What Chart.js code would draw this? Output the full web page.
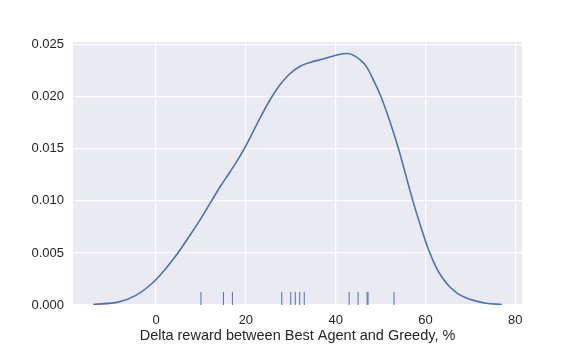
<!DOCTYPE html>
<html>
<head>
<meta charset="utf-8">
<script src="https://cdn.jsdelivr.net/npm/chart.js@4"></script>
<style>
html,body{margin:0;padding:0;background:#fff;}
#wrap{width:581px;height:349px;position:relative;}
</style>
</head>
<body>
<div id="wrap"><canvas id="c" width="581" height="349"></canvas></div>
<script>
// KDE curve
const kdeX = [-14, -8.3, -4.6, -1.3, 0.95, 4.28, 7.6, 9.8, 12.05, 14.3, 16.5, 18.7, 20.9, 23.15, 25.4, 27.6, 29.8, 32.0, 34.3, 37.2, 40.5, 42.6, 45.4, 47.0, 48.3, 50.1, 52.1, 54.0, 55.6, 57.2, 58.9, 60.7, 62.4, 63.8, 65.5, 67.2, 69.0, 70.9, 73.5, 77.0];
const kdeY = [0.00005, 0.0003, 0.0009, 0.00192, 0.00288, 0.00465, 0.00673, 0.00817, 0.00978, 0.01138, 0.0128, 0.0143, 0.01603, 0.01795, 0.01971, 0.02115, 0.02221, 0.02291, 0.0233, 0.02362, 0.02404, 0.02415, 0.02356, 0.0228, 0.0217, 0.0200, 0.0176, 0.0150, 0.0125, 0.0100, 0.0076, 0.0053, 0.0036, 0.0026, 0.0017, 0.0011, 0.0007, 0.00042, 0.00017, 0.00005];
// rug observations
const rugX = [10, 15, 17, 28, 30, 31, 32, 33, 43, 45, 47, 47.2, 53];
const xTicks = [0, 20, 40, 60, 80];
const yTicks = [0, 0.005, 0.010, 0.015, 0.020, 0.025];
const xLabel = "Delta reward between Best Agent and Greedy, %";
const X_MIN = -18.5, X_MAX = 81.5, Y_MIN = 0, Y_MAX = 0.02526;

const curve = kdeX.map((x, i) => ({x: x, y: kdeY[i]}));
const rugH = (Y_MAX - Y_MIN) * 0.05;
const rug = [];
rugX.forEach(x => { rug.push({x: x, y: 0}); rug.push({x: x, y: rugH}); rug.push({x: x, y: null}); });

const bgPlugin = {
  id: 'bg',
  beforeDraw(chart) {
    const {ctx, chartArea: a} = chart;
    ctx.save();
    ctx.fillStyle = '#EAEAF2';
    ctx.fillRect(a.left, a.top, a.right - a.left, a.bottom - a.top);
    ctx.restore();
  }
};

const font = {family: "'Liberation Sans', Arial, sans-serif", size: 13};

new Chart(document.getElementById('c'), {
  type: 'line',
  data: {
    datasets: [
      {data: curve, borderColor: '#4C72B0', borderWidth: 1.6, pointRadius: 0, cubicInterpolationMode: 'monotone', fill: false},
      {data: rug, borderColor: '#4C72B0', borderWidth: 1, pointRadius: 0, spanGaps: false, tension: 0}
    ]
  },
  options: {
    responsive: false,
    animation: false,
    events: [],
    layout: {padding: {left: 0, right: 59, top: 42, bottom: 0}},
    plugins: {legend: {display: false}, tooltip: {enabled: false}},
    scales: {
      x: {
        type: 'linear', min: X_MIN, max: X_MAX,
        afterBuildTicks(s) { s.ticks = xTicks.map(v => ({value: v})); },
        afterFit(s) { s.height = 44; },
        grid: {color: '#FFFFFF', lineWidth: 1.2, drawTicks: false},
        border: {display: false},
        ticks: {font: font, color: '#262626', padding: 8, maxRotation: 0, callback: v => String(v)},
        title: {display: true, text: xLabel, font: {family: font.family, size: 14.5}, color: '#262626', padding: {top: 2, bottom: 4}}
      },
      y: {
        type: 'linear', min: Y_MIN, max: Y_MAX,
        afterBuildTicks(s) { s.ticks = yTicks.map(v => ({value: v})); },
        afterFit(s) { s.width = 73; },
        grid: {color: '#FFFFFF', lineWidth: 1.2, drawTicks: false},
        border: {display: false},
        ticks: {font: font, color: '#262626', padding: 9, callback: v => v.toFixed(3)}
      }
    }
  },
  plugins: [bgPlugin]
});
</script>
</body>
</html>
